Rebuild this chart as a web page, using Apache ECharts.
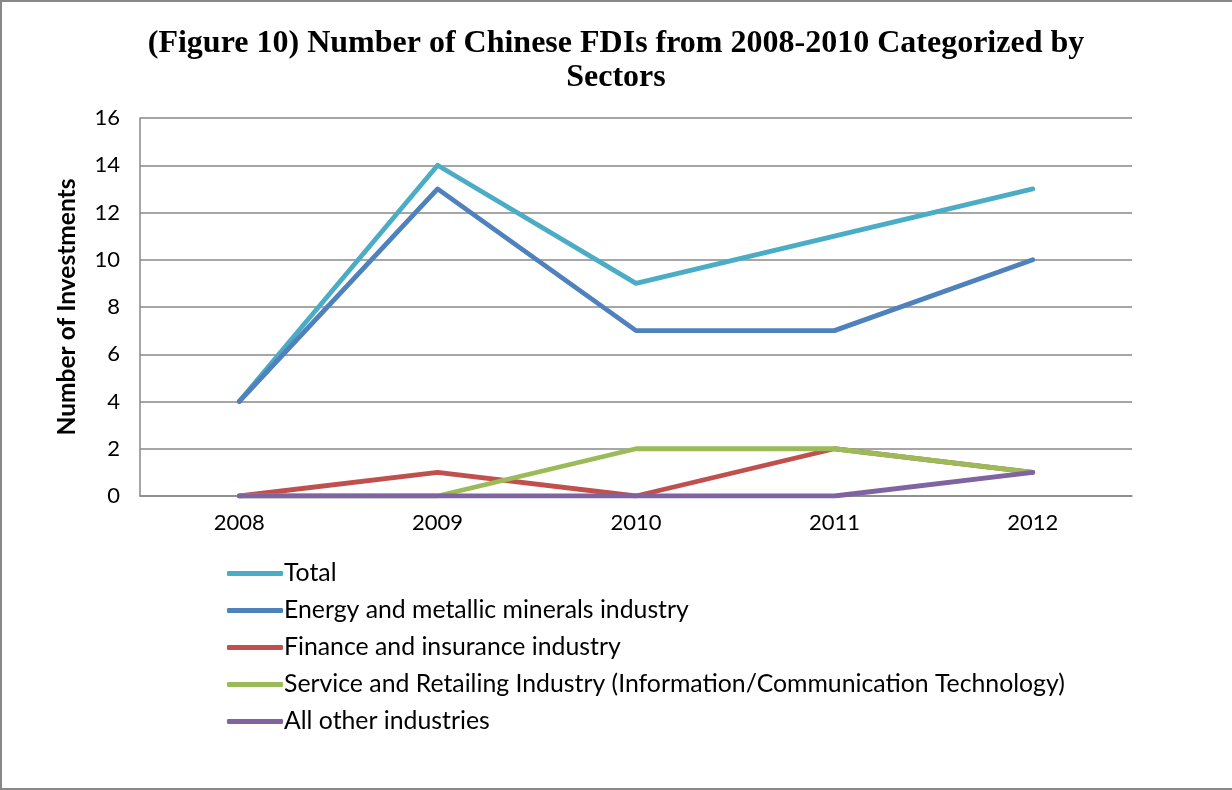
<!DOCTYPE html>
<html><head><meta charset="utf-8">
<script src="https://cdn.jsdelivr.net/npm/echarts@6/dist/echarts.min.js"></script>
<style>
html,body{margin:0;padding:0;background:#fff;}
#frame{position:absolute;left:0;top:0;width:1232px;height:790px;box-sizing:border-box;border-left:2px solid #888;border-top:2px solid #888;border-bottom:2px solid #888;}
#c{position:absolute;left:0;top:0;width:1232px;height:790px;}
</style></head>
<body><div id="frame"></div><div id="c"></div>
<script>
const years = ['2008','2009','2010','2011','2012'];
const total = [4, 14, 9, 11, 13];
const energy = [4, 13, 7, 7, 10];
const finance = [0, 1, 0, 2, 1];
const service = [0, 0, 2, 2, 1];
const other = [0, 0, 0, 0, 1];
const seriesNames = ['Total','Energy and metallic minerals industry','Finance and insurance industry','Service and Retailing Industry (Information/Communication Technology)','All other industries'];
const colors = ['#4BACC6','#4F81BD','#C0504D','#9BBB59','#8064A2'];
const values = [total, energy, finance, service, other];

const chart = echarts.init(document.getElementById('c'));
chart.setOption({
  animation:false,
  color: colors,
  title:{
    text:'(Figure 10) Number of Chinese FDIs from 2008-2010 Categorized by\nSectors',
    left:'center', top:22,
    textStyle:{fontFamily:'Liberation Serif',fontWeight:'bold',fontSize:32,color:'#000',lineHeight:34}
  },
  grid:{left:140,right:100,top:118,bottom:294},
  legend:{
    orient:'vertical', left:222, top:556, itemGap:12, itemWidth:56, itemHeight:5,
    icon:'roundRect',
    data: seriesNames.map((n,i)=>({name:n,itemStyle:{color:colors[i]}})),
    textStyle:{fontFamily:'Lato',fontSize:24.8,color:'#000',padding:[0,0,0,-4]}
  },
  xAxis:{
    type:'category', data:years, boundaryGap:true,
    axisLine:{lineStyle:{color:'#888',width:1.5}},
    axisTick:{show:false},
    axisLabel:{fontFamily:'Lato',fontSize:22,color:'#000',margin:16}
  },
  yAxis:{
    type:'value', min:0, max:16, interval:2,
    name:'Number of Investments', nameLocation:'middle', nameGap:60,
    nameTextStyle:{fontFamily:'Lato',fontWeight:'bold',fontSize:24.5,color:'#000'},
    axisLine:{show:true,lineStyle:{color:'#888',width:1.5}},
    axisTick:{show:false},
    axisLabel:{fontFamily:'Lato',fontSize:22,color:'#000',margin:20},
    splitLine:{show:true,lineStyle:{color:'#888',width:1.5}}
  },
  series: seriesNames.map((n,i)=>({
    name:n, type:'line', data:values[i], showSymbol:false, symbol:'none',
    lineStyle:{width:4.8,color:colors[i],cap:'round',join:'round'},
    itemStyle:{color:colors[i]}
  }))
});
</script></body></html>
